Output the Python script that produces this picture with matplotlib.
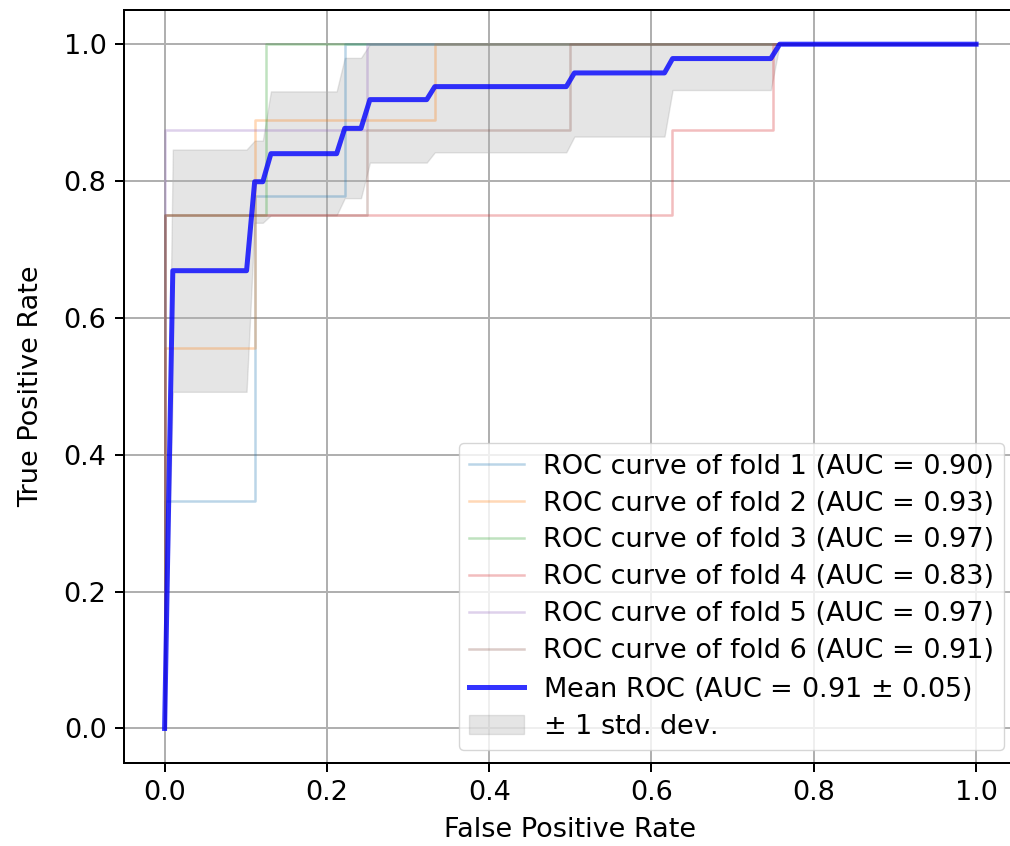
import numpy as np
import matplotlib
matplotlib.use('Agg')
import matplotlib.pyplot as plt

# ROC step curves of the six folds
fold_fpr = [
    [0.0, 0.0, 0.111, 0.111, 0.222, 0.222, 1.0],
    [0.0, 0.0, 0.111, 0.111, 0.333, 0.333, 1.0],
    [0.0, 0.0, 0.125, 0.125, 1.0],
    [0.0, 0.0, 0.625, 0.625, 0.75, 0.75, 1.0],
    [0.0, 0.0, 0.25, 0.25, 1.0],
    [0.0, 0.0, 0.25, 0.25, 0.5, 0.5, 1.0],
]
fold_tpr = [
    [0.0, 0.333, 0.333, 0.778, 0.778, 1.0, 1.0],
    [0.0, 0.556, 0.556, 0.889, 0.889, 1.0, 1.0],
    [0.0, 0.75, 0.75, 1.0, 1.0],
    [0.0, 0.75, 0.75, 0.875, 0.875, 1.0, 1.0],
    [0.0, 0.875, 0.875, 1.0, 1.0],
    [0.0, 0.75, 0.75, 0.875, 0.875, 1.0, 1.0],
]
fold_auc = [0.90, 0.93, 0.97, 0.83, 0.97, 0.91]

# mean ROC and +/- 1 std band corners
mean_fpr = [0.0, 0.0101, 0.101, 0.111, 0.121, 0.131, 0.212, 0.222, 0.242, 0.253,
            0.323, 0.333, 0.495, 0.505, 0.616, 0.626, 0.747, 0.758, 1.0]
mean_tpr = [0.0, 0.669, 0.669, 0.799, 0.799, 0.840, 0.840, 0.877, 0.877, 0.919,
            0.919, 0.938, 0.938, 0.958, 0.958, 0.979, 0.979, 1.0, 1.0]
tpr_upper = [0.0, 0.846, 0.846, 0.859, 0.859, 0.931, 0.931, 0.980, 0.980, 1.0,
             1.0, 1.0, 1.0, 1.0, 1.0, 1.0, 1.0, 1.0, 1.0]
tpr_lower = [0.0, 0.492, 0.492, 0.739, 0.739, 0.750, 0.750, 0.775, 0.775, 0.827,
             0.827, 0.842, 0.842, 0.865, 0.865, 0.933, 0.933, 1.0, 1.0]
mean_auc = 0.91
std_auc = 0.05

s = 1.8
matplotlib.rc('font', size=19.5)

fig = plt.figure(figsize=(10.1, 8.46), dpi=100)
ax = fig.add_axes([0.1228, 0.0985, 0.8838, 0.8897])

for i in range(len(fold_fpr)):
    ax.plot(fold_fpr[i], fold_tpr[i], lw=1 * s, alpha=0.3,
            label='ROC curve of fold %d (AUC = %0.2f)' % (i + 1, fold_auc[i]))

ax.plot(mean_fpr, mean_tpr, color='b', lw=2 * s, alpha=0.8,
        label=r'Mean ROC (AUC = %0.2f $\pm$ %0.2f)' % (mean_auc, std_auc))
ax.fill_between(mean_fpr, tpr_lower, tpr_upper, color='grey', alpha=0.2,
                label=r'$\pm$ 1 std. dev.')

ax.set_xlim([-0.05, 1.05])
ax.set_ylim([-0.05, 1.05])
ax.set_xlabel('False Positive Rate', labelpad=8)
ax.set_ylabel('True Positive Rate', labelpad=14)
ax.grid(True, lw=0.8 * s)
for sp in ax.spines.values():
    sp.set_linewidth(0.8 * s)
ax.tick_params(width=0.8 * s, length=3.5 * s, pad=3.5 * s)
ax.legend(loc='lower right', labelspacing=0.4, borderaxespad=0.45,
          handletextpad=0.7)

plt.savefig('out.png', dpi=100)
